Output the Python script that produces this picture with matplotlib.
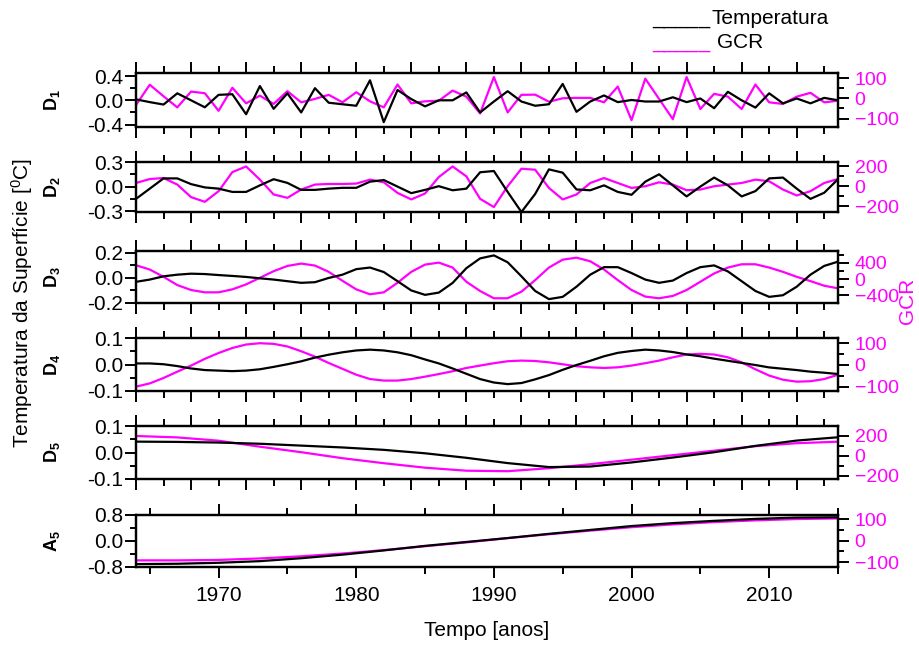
import matplotlib
matplotlib.use("Agg")
import matplotlib.pyplot as plt
from matplotlib.ticker import MultipleLocator, FormatStrFormatter

plt.rcParams['font.family'] = ['Liberation Sans', 'DejaVu Sans']
plt.rcParams['mathtext.fontset'] = 'custom'
plt.rcParams['mathtext.rm'] = 'Liberation Sans'
plt.rcParams['mathtext.bf'] = 'Liberation Sans:bold'
plt.rcParams['mathtext.default'] = 'regular'

MAG = '#FF00FF'
FS = 15

# anos (componentes D1, D2, D3, D4: dados anuais)
anos = list(range(1964, 2016))

d1_temp = [0.016, -0.03, -0.07, 0.115, 0.0, -0.115, 0.09, 0.10, -0.23, 0.235,
           -0.14, 0.115, -0.2, 0.2, -0.04, -0.065, -0.09, 0.33, -0.36, 0.17,
           0.02, -0.1, 0.0, 0.0, 0.13, -0.2, -0.02, 0.15, -0.02, -0.09,
           -0.065, 0.27, -0.19, -0.02, 0.08, -0.03, 0.005, -0.02, -0.02, 0.05,
           -0.03, 0.03, -0.13, 0.14, 0.0, -0.12, 0.115, -0.05, 0.03, -0.05,
           0.04, 0.0]
d1_gcr = [-33, 67, 10, -45, 33, 25, -62, 52, -25, 13,
          -28, 35, -20, -3, 17, -20, 30, -15, -45, 68,
          -25, -15, -12, 38, 8, -75, 105, -70, 17, 18,
          -17, 0, 2, 2, -20, 58, -108, 97, -3, -103,
          105, -53, 22, 8, -53, 68, -20, -28, 8, 27,
          -20, -12]

d2_temp = [-0.15, -0.025, 0.1, 0.1, 0.03, -0.01, -0.025, -0.065, -0.065, 0.015,
           0.09, 0.045, -0.04, -0.04, -0.025, -0.015, -0.015, 0.06, 0.08, 0.0,
           -0.08, -0.04, 0.005, -0.045, -0.025, 0.175, 0.19, -0.065, -0.31, -0.09,
           0.21, 0.17, -0.035, -0.045, 0.015, -0.065, -0.1, 0.06, 0.15, 0.015,
           -0.12, 0.0, 0.11, 0.015, -0.12, -0.055, 0.1, 0.11, -0.025, -0.15,
           -0.075, 0.09]
d2_gcr = [33, 73, 83, 17, -110, -157, -50, 143, 200, 67,
          -83, -117, -33, 17, 23, 23, 27, 67, 40, -67,
          -133, -73, 93, 200, 100, -127, -210, 0, 177, 167,
          -17, -133, -83, 33, 83, 33, -17, 0, 40, 17,
          -40, -33, 0, 17, 33, 67, 50, -33, -93, -50,
          33, 73]

d3_temp = [-0.031, -0.013, 0.013, 0.026, 0.034, 0.031, 0.023, 0.016, 0.008, -0.003,
           -0.013, -0.026, -0.039, -0.034, 0.0, 0.026, 0.07, 0.083, 0.047, -0.026,
           -0.1, -0.135, -0.117, -0.04, 0.078, 0.156, 0.18, 0.125, 0.013, -0.104,
           -0.169, -0.151, -0.07, 0.026, 0.086, 0.086, 0.039, -0.013, -0.039, -0.021,
           0.039, 0.086, 0.1, 0.052, -0.026, -0.104, -0.151, -0.138, -0.07, 0.026,
           0.096, 0.13]
d3_gcr = [343, 237, 57, -147, -269, -326, -326, -253, -130, 33,
          196, 326, 384, 335, 180, -41, -253, -375, -326, -90,
          180, 359, 408, 286, -65, -294, -473, -473, -310, -24,
          286, 481, 530, 441, 237, -24, -269, -432, -473, -416,
          -269, -65, 139, 286, 367, 367, 286, 180, 57, -49,
          -163, -228]

d4_temp = [0.004, 0.004, 0.001, -0.006, -0.015, -0.021, -0.023, -0.025, -0.023, -0.018,
           -0.009, 0.001, 0.012, 0.026, 0.037, 0.046, 0.053, 0.056, 0.053, 0.046,
           0.035, 0.019, 0.004, -0.015, -0.035, -0.055, -0.068, -0.074, -0.07, -0.056,
           -0.04, -0.02, -0.002, 0.014, 0.031, 0.044, 0.051, 0.056, 0.053, 0.047,
           0.038, 0.031, 0.022, 0.014, 0.006, -0.002, -0.011, -0.016, -0.021, -0.027,
           -0.031, -0.036]
d4_gcr = [-100, -85, -60, -31, -3, 28, 55, 78, 94, 100,
          97, 85, 63, 38, 9, -18, -45, -65, -72, -72,
          -65, -54, -42, -29, -14, -3, 8, 17, 20, 18,
          12, 3, -6, -11, -14, -11, -3, 8, 20, 35,
          48, 51, 48, 35, 12, -20, -49, -68, -77, -75,
          -65, -45]

# D5 e A5 (componentes suaves, lidas a cada 3 anos)
anos_s = [1964, 1967, 1970, 1973, 1976, 1979, 1982, 1985, 1988,
          1991, 1994, 1997, 2000, 2003, 2006, 2009, 2012, 2015]
d5_temp = [0.041, 0.04, 0.0375, 0.033, 0.026, 0.019, 0.01, -0.003, -0.02,
           -0.04, -0.055, -0.053, -0.0375, -0.019, 0.001, 0.025, 0.045, 0.0575]
d5_gcr = [197, 183, 150, 90, 35, -25, -75, -120, -150,
          -155, -125, -85, -40, 5, 50, 95, 125, 140]
a5_temp = [-0.71, -0.70, -0.67, -0.62, -0.53, -0.42, -0.29, -0.15, -0.03,
           0.09, 0.22, 0.34, 0.46, 0.55, 0.62, 0.68, 0.72, 0.73]
a5_gcr = [-92, -92, -90, -83, -73, -60, -44, -26, -8,
          12, 30, 47, 63, 76, 87, 95, 101, 104]

rotulos = ['D_1', 'D_2', 'D_3', 'D_4', 'D_5', 'A_5']

fig = plt.figure(figsize=(9.2, 6.46), dpi=100)
W, H = 920.0, 646.0

topos = [73, 162, 251, 338, 426, 515]
bases = [127, 212, 303, 391, 479, 567]
esq, dir_ = 136, 838

paineis = [
    (anos, d1_temp, d1_gcr, (-0.44, 0.45), 0.4, 0.2, (-142, 125), 100, 50),
    (anos, d2_temp, d2_gcr, (-0.31, 0.3), 0.3, 0.15, (-260, 245), 200, 100),
    (anos, d3_temp, d3_gcr, (-0.2, 0.215), 0.2, 0.1, (-590, 695), 400, 200),
    (anos, d4_temp, d4_gcr, (-0.1, 0.1), 0.1, 0.05, (-120, 124), 100, 50),
    (anos_s, d5_temp, d5_gcr, (-0.1, 0.1), 0.1, 0.05, (-233, 297), 200, 100),
    (anos_s, a5_temp, a5_gcr, (-0.8, 0.8), 0.8, 0.4, (-123, 120), 100, 50),
]

for i, (x, yt, yg, lim1, maj1, min1, lim2, maj2, min2) in enumerate(paineis):
    ax = fig.add_axes([esq / W, 1 - bases[i] / H, (dir_ - esq) / W, (bases[i] - topos[i]) / H])
    ax2 = ax.twinx()
    ax.plot(x, yt, color='black', lw=1.6, zorder=3)
    ax2.plot(x, yg, color=MAG, lw=1.6)
    ax.set_zorder(ax2.get_zorder() + 1)
    ax.patch.set_visible(False)

    ax.set_xlim(1964, 2015)
    ax.set_ylim(*lim1)
    ax2.set_ylim(*lim2)
    ax.yaxis.set_major_locator(MultipleLocator(maj1))
    ax.yaxis.set_minor_locator(MultipleLocator(min1))
    ax.yaxis.set_major_formatter(FormatStrFormatter('%.1f'))
    ax2.yaxis.set_major_locator(MultipleLocator(maj2))
    ax2.yaxis.set_minor_locator(MultipleLocator(min2))

    if i < 5:
        ax.xaxis.set_major_locator(MultipleLocator(4))
        ax.xaxis.set_minor_locator(MultipleLocator(2))
        ax.tick_params(axis='x', which='both', labelbottom=False)
    else:
        ax.xaxis.set_major_locator(MultipleLocator(10))
        ax.xaxis.set_minor_locator(MultipleLocator(5))
        ax.set_xlabel('Tempo [anos]', fontsize=FS, labelpad=11)

    ax.tick_params(axis='x', which='both', direction='out', top=True, width=1.4,
                   labelsize=FS, pad=6)
    ax.tick_params(axis='x', which='major', length=8)
    ax.tick_params(axis='x', which='minor', length=5)
    ax.tick_params(axis='y', which='both', direction='out', width=1.4, labelsize=FS, pad=1)
    ax.tick_params(axis='y', which='major', length=8)
    ax.tick_params(axis='y', which='minor', length=4)
    ax2.tick_params(axis='y', which='both', direction='out', width=1.4, labelsize=14,
                    labelcolor=MAG, pad=4)
    ax2.tick_params(axis='y', which='major', length=8)
    ax2.tick_params(axis='y', which='minor', length=4)
    for a in (ax, ax2):
        for s in a.spines.values():
            s.set_linewidth(1.6)

    cy = 1 - (topos[i] + bases[i]) / 2 / H
    fig.text(52 / W, cy, r'$\mathbf{' + rotulos[i] + '}$', rotation=90,
             ha='center', va='center', fontsize=13)

fig.text(22 / W, 1 - 303 / H, 'Temperatura da Superfície [$^0$C]', rotation=90,
         ha='center', va='center', fontsize=FS)
fig.text(908 / W, 1 - 301 / H, 'GCR', rotation=90, ha='center', va='center',
         fontsize=FS, color=MAG)

# legenda
fig.text(652 / W, 1 - 24 / H, '_____', color='black', fontsize=FS, va='baseline')
fig.text(712 / W, 1 - 24 / H, 'Temperatura', color='black', fontsize=FS, va='baseline')
fig.text(652 / W, 1 - 48 / H, '_____', color=MAG, fontsize=FS, va='baseline')
fig.text(717 / W, 1 - 48 / H, 'GCR', color='black', fontsize=FS, va='baseline')

# titulo (cortado no topo da figura, como no original)
fig.text(440 / W, 1 + 5 / H, 'Decomposição (Temperatura) Superfície e GCR (Raios Cósmicos Galácticos)',
         ha='center', va='baseline', fontsize=FS)

fig.savefig('out.png', dpi=100)
